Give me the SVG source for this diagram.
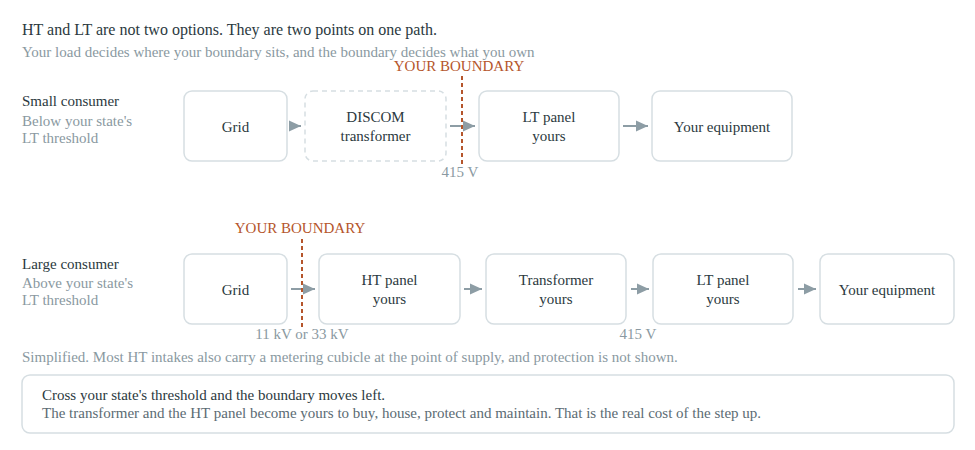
<svg xmlns="http://www.w3.org/2000/svg" width="975" height="450" viewBox="0 0 975 450">
<defs>
<marker id="ah" viewBox="0 0 12 12" refX="12" refY="6" markerWidth="12" markerHeight="12" markerUnits="userSpaceOnUse" orient="auto"><path d="M0,0.5 L12,6 L0,11.5 Z" fill="#8d9da5"/></marker>
<style>
text{font-family:"Liberation Serif","Times New Roman",serif;}
.t{font-size:16px;fill:#2b3940;}
.l{font-size:15px;fill:#2b3940;}
.s{font-size:15px;fill:#8a99a1;}
.n{font-size:15px;fill:#2b3940;text-anchor:middle;}
.b{font-size:15px;fill:#b5552b;text-anchor:middle;}
.v{font-size:15px;fill:#8a99a1;text-anchor:middle;}
.box{fill:#fff;stroke:#d6dee2;stroke-width:1.5;}
.dash{fill:#fff;stroke:#d6dee2;stroke-width:1.5;stroke-dasharray:5 4;}
.ar{stroke:#8d9da5;stroke-width:2;fill:none;marker-end:url(#ah);}
.bd{stroke:#b5552b;stroke-width:2;stroke-dasharray:4 3;fill:none;}
</style>
</defs>
<rect width="975" height="450" fill="#fff"/>
<text class="t" x="22" y="35">HT and LT are not two options. They are two points on one path.</text>
<text class="s" x="22" y="57">Your load decides where your boundary sits, and the boundary decides what you own</text>

<g id="row1-label">
<text class="l" x="22" y="106">Small consumer</text>
<text class="s" x="22" y="126">Below your state's</text>
<text class="s" x="22" y="143">LT threshold</text>
</g>
<g id="r1-grid"><rect class="box" x="184" y="91" width="103" height="70" rx="8"/><text class="n" x="235.5" y="132">Grid</text></g>
<g id="r1-discom"><rect class="dash" x="305" y="91" width="141" height="70" rx="8"/><text class="n" x="375.5" y="122">DISCOM</text><text class="n" x="375.5" y="141">transformer</text></g>
<g id="r1-lt"><rect class="box" x="479" y="91" width="140" height="70" rx="8"/><text class="n" x="549" y="122">LT panel</text><text class="n" x="549" y="141">yours</text></g>
<g id="r1-equip"><rect class="box" x="652" y="91" width="140" height="70" rx="8"/><text class="n" x="722" y="132">Your equipment</text></g>

<g id="row2-label">
<text class="l" x="22" y="269">Large consumer</text>
<text class="s" x="22" y="288">Above your state's</text>
<text class="s" x="22" y="305">LT threshold</text>
</g>
<g id="r2-grid"><rect class="box" x="184" y="254" width="103" height="70" rx="8"/><text class="n" x="235.5" y="295">Grid</text></g>
<g id="r2-ht"><rect class="box" x="319" y="254" width="141" height="70" rx="8"/><text class="n" x="389.5" y="285">HT panel</text><text class="n" x="389.5" y="304">yours</text></g>
<g id="r2-tr"><rect class="box" x="486" y="254" width="140" height="70" rx="8"/><text class="n" x="556" y="285">Transformer</text><text class="n" x="556" y="304">yours</text></g>
<g id="r2-lt"><rect class="box" x="653" y="254" width="140" height="70" rx="8"/><text class="n" x="723" y="285">LT panel</text><text class="n" x="723" y="304">yours</text></g>
<g id="r2-equip"><rect class="box" x="820" y="254" width="134" height="70" rx="8"/><text class="n" x="887" y="295">Your equipment</text></g>

<g id="connectors">
<line class="ar" x1="289" y1="126" x2="301" y2="126"/>
<line class="ar" x1="450" y1="126" x2="475" y2="126"/>
<line class="ar" x1="623" y1="126" x2="648" y2="126"/>
<line class="ar" x1="291" y1="289" x2="315" y2="289"/>
<line class="ar" x1="464" y1="289" x2="482" y2="289"/>
<line class="ar" x1="631" y1="289" x2="649" y2="289"/>
<line class="ar" x1="798" y1="289" x2="816" y2="289"/>
</g>

<g id="boundary1">
<line class="bd" x1="462" y1="76" x2="462" y2="165"/>
<text class="b" x="459" y="71">YOUR BOUNDARY</text>
<text class="v" x="460" y="177">415 V</text>
</g>
<g id="boundary2">
<line class="bd" x1="302" y1="239" x2="302" y2="328"/>
<text class="b" x="300" y="233">YOUR BOUNDARY</text>
<text class="v" x="302" y="339">11 kV or 33 kV</text>
<text class="v" x="638" y="339">415 V</text>
</g>

<text class="s" x="22" y="362">Simplified. Most HT intakes also carry a metering cubicle at the point of supply, and protection is not shown.</text>
<g id="note">
<rect class="box" x="22" y="375" width="932" height="58" rx="8"/>
<text class="l" x="42" y="400">Cross your state's threshold and the boundary moves left.</text>
<text x="42" y="418" style="font-size:15px;fill:#5b6b73">The transformer and the HT panel become yours to buy, house, protect and maintain. That is the real cost of the step up.</text>
</g>
</svg>
